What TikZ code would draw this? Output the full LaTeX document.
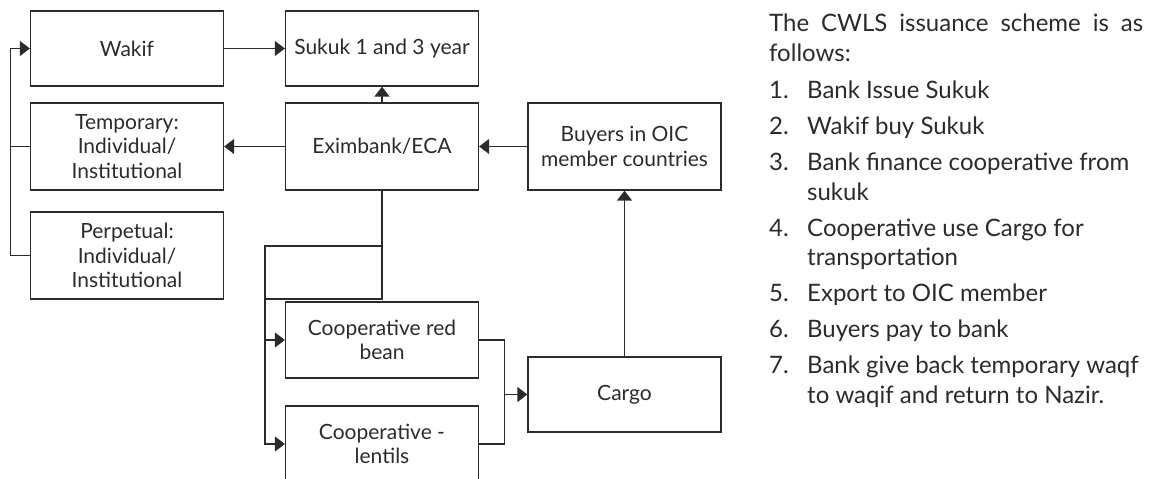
\documentclass[tikz,border=0pt]{standalone}
\usepackage{fontspec}
\setmainfont{Lato}
\usepackage{enumitem}
\usetikzlibrary{arrows.meta}
\definecolor{ink}{HTML}{2B2B2B}

\begin{document}
\begin{tikzpicture}[x=1pt,y=1pt,
    box/.style={draw=ink, line width=1.3pt, text=ink, inner sep=0pt,
      align=center, minimum width=193pt, font=\fontsize{21}{24.5}\selectfont},
    wire/.style={draw=ink, line width=1.3pt},
    arr/.style={wire, -{Triangle[length=10pt,width=15pt]}}]
    \useasboundingbox (0,0) rectangle (1151,479);
    \node[box, minimum height=75pt] (wakif) at (127,430.5) {Wakif};
    \node[box, minimum height=75pt] (sukuk) at (382,430.5) {Sukuk 1 and 3 year};
    \node[box, minimum height=87pt] (temp) at (127,332.5)
          {Temporary:\\ Individual/\\ Institutional};
    \node[box, minimum height=87pt] (exim) at (382,332.5) {Eximbank/ECA};
    \node[box, minimum height=87pt] (buyers) at (624.5,332.5)
          {Buyers in OIC\\ member countries};
    \node[box, minimum height=87pt] (perp) at (127,223.5)
          {Perpetual:\\ Individual/\\ Institutional};
    \node[box, minimum height=76pt] (redbean) at (382,139)
          {Cooperative red\\ bean};
    \node[box, minimum height=76pt] (lentils) at (382,35)
          {Cooperative -\\ lentils};
    \node[box, minimum height=75pt] (cargo) at (624.5,84.5) {Cargo};

    \draw[arr] (wakif) -- (sukuk);
    \draw[arr] (exim) -- (sukuk);
    \draw[arr] (exim) -- (temp);
    \draw[arr] (buyers) -- (exim);
    \draw[arr] (cargo) -- (buyers);
    \draw[arr] (temp.west) -- ++(-19.5,0) |- (wakif.west);
    \draw[wire] (perp.west) -- ++(-19.5,0) |- (temp.west);

    \coordinate (ta) at (382,233);
    \coordinate (tb) at (382,180);
    \coordinate (bus) at (265,233);
    \draw[wire] (exim.south) -- (tb) -- (tb -| bus);
    \draw[arr] (ta) -- (bus) |- (lentils.west);
    \draw[arr] (bus |- redbean.west) -- (redbean.west);
    \draw[wire] (redbean.east) -- ++(25,0) |- (lentils.east);
    \draw[arr] (redbean.east) ++(25,0) |- (cargo.west);

    \node[anchor=north west, inner sep=0pt, text width=374pt, text=ink,
          align=justify] (scheme) at (769,465)
          {\fontsize{24}{29.5}\selectfont\hyphenpenalty=10000
           The CWLS issuance scheme is as follows:
           \begin{enumerate}[leftmargin=38pt, labelwidth=30pt, labelsep=8pt,
             align=left, topsep=8pt, itemsep=6.5pt, parsep=0pt, partopsep=0pt]
           \raggedright
           \item Bank Issue Sukuk
           \item Wakif buy Sukuk
           \item Bank finance cooperative from sukuk
           \item Cooperative use Cargo for transportation
           \item Export to OIC member
           \item Buyers pay to bank
           \item Bank give back temporary waqf to waqif and return to Nazir.
           \end{enumerate}};
  \end{tikzpicture}
\end{document}
